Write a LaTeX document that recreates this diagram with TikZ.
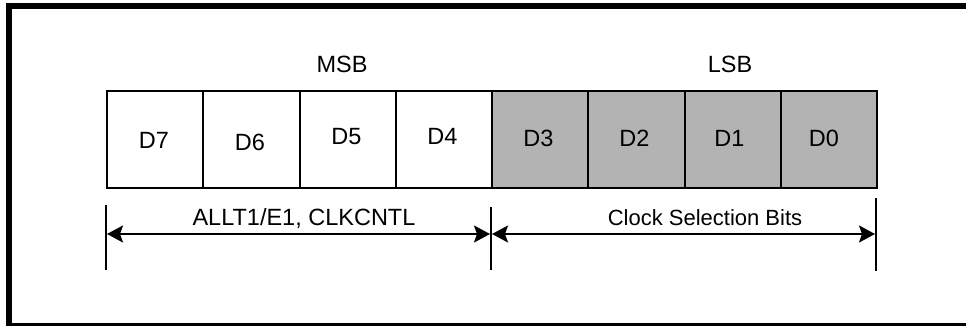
\documentclass[tikz,border=0pt]{standalone}
\usepackage{fontspec}
\setmainfont{Liberation Sans}
\usetikzlibrary{arrows.meta}
\definecolor{cellgray}{RGB}{179,179,179}
\tikzset{
  cellbox/.style={draw=black, line width=2pt, minimum width=96.25pt, minimum height=96.5pt, inner sep=0pt, anchor=north west},
  graycell/.style={cellbox, fill=cellgray},
  lbl/.style={anchor=base, inner sep=0pt, font=\fontsize{23.5}{28}\selectfont},
  tick/.style={line width=2pt},
  dimarrow/.style={line width=2pt, {Stealth[length=16pt,width=17pt,inset=3pt]}-{Stealth[length=16pt,width=17pt,inset=3pt]}}
}
\begin{document}
\begin{tikzpicture}[x=1pt,y=-1pt]
\useasboundingbox (0,0) rectangle (966,326);
% outer frame (right edge outside the picture)
\draw[line width=6pt] (9,6) -- (975,6);
\draw[line width=6pt] (9,3) -- (9,329);
\draw[line width=6pt] (6,326) -- (975,326);
% cells
\node[cellbox]  (c7) at (106,90) {};
\node[cellbox]  (c6) at (202.25,90) {};
\node[cellbox]  (c5) at (298.5,90) {};
\node[cellbox]  (c4) at (394.75,90) {};
\node[graycell] (c3) at (491,90) {};
\node[graycell] (c2) at (587.25,90) {};
\node[graycell] (c1) at (683.5,90) {};
\node[graycell] (c0) at (779.75,90) {};
% cell labels
\node[lbl] (t7) at (154,148) {D7};
\node[lbl] (t6) at (250,150) {D6};
\node[lbl] (t5) at (346.5,145) {D5};
\node[lbl] (t4) at (442.5,145) {D4};
\node[lbl] (t3) at (538.5,146.5) {D3};
\node[lbl] (t2) at (634.5,146.5) {D2};
\node[lbl] (t1) at (729.5,146.5) {D1};
\node[lbl] (t0) at (824,146.5) {D0};
% MSB / LSB
\node[lbl] (msb) at (342,72.5) {MSB};
\node[lbl] (lsb) at (730,72.5) {LSB};
% ticks
\coordinate (lt) at (106,205); \coordinate (lb) at (106,270);
\coordinate (mt) at (491,207); \coordinate (mb) at (491,270);
\coordinate (rt) at (876,198); \coordinate (rb) at (876,271);
\draw[tick] (lt) -- (lb);
\draw[tick] (mt) -- (mb);
\draw[tick] (rt) -- (rb);
% dimension arrows
\coordinate (la) at (107,234); \coordinate (ma1) at (490,234);
\coordinate (ma2) at (492,234); \coordinate (ra) at (875,234);
\draw[dimarrow] (la) -- (ma1);
\draw[dimarrow] (ma2) -- (ra);
% arrow labels
\node[lbl] (alab) at (304,225) {ALLT1/E1, CLKCNTL};
\node[lbl, font=\fontsize{22}{26}\selectfont] (blab) at (705,225) {Clock Selection Bits};
\end{tikzpicture}
\end{document}
